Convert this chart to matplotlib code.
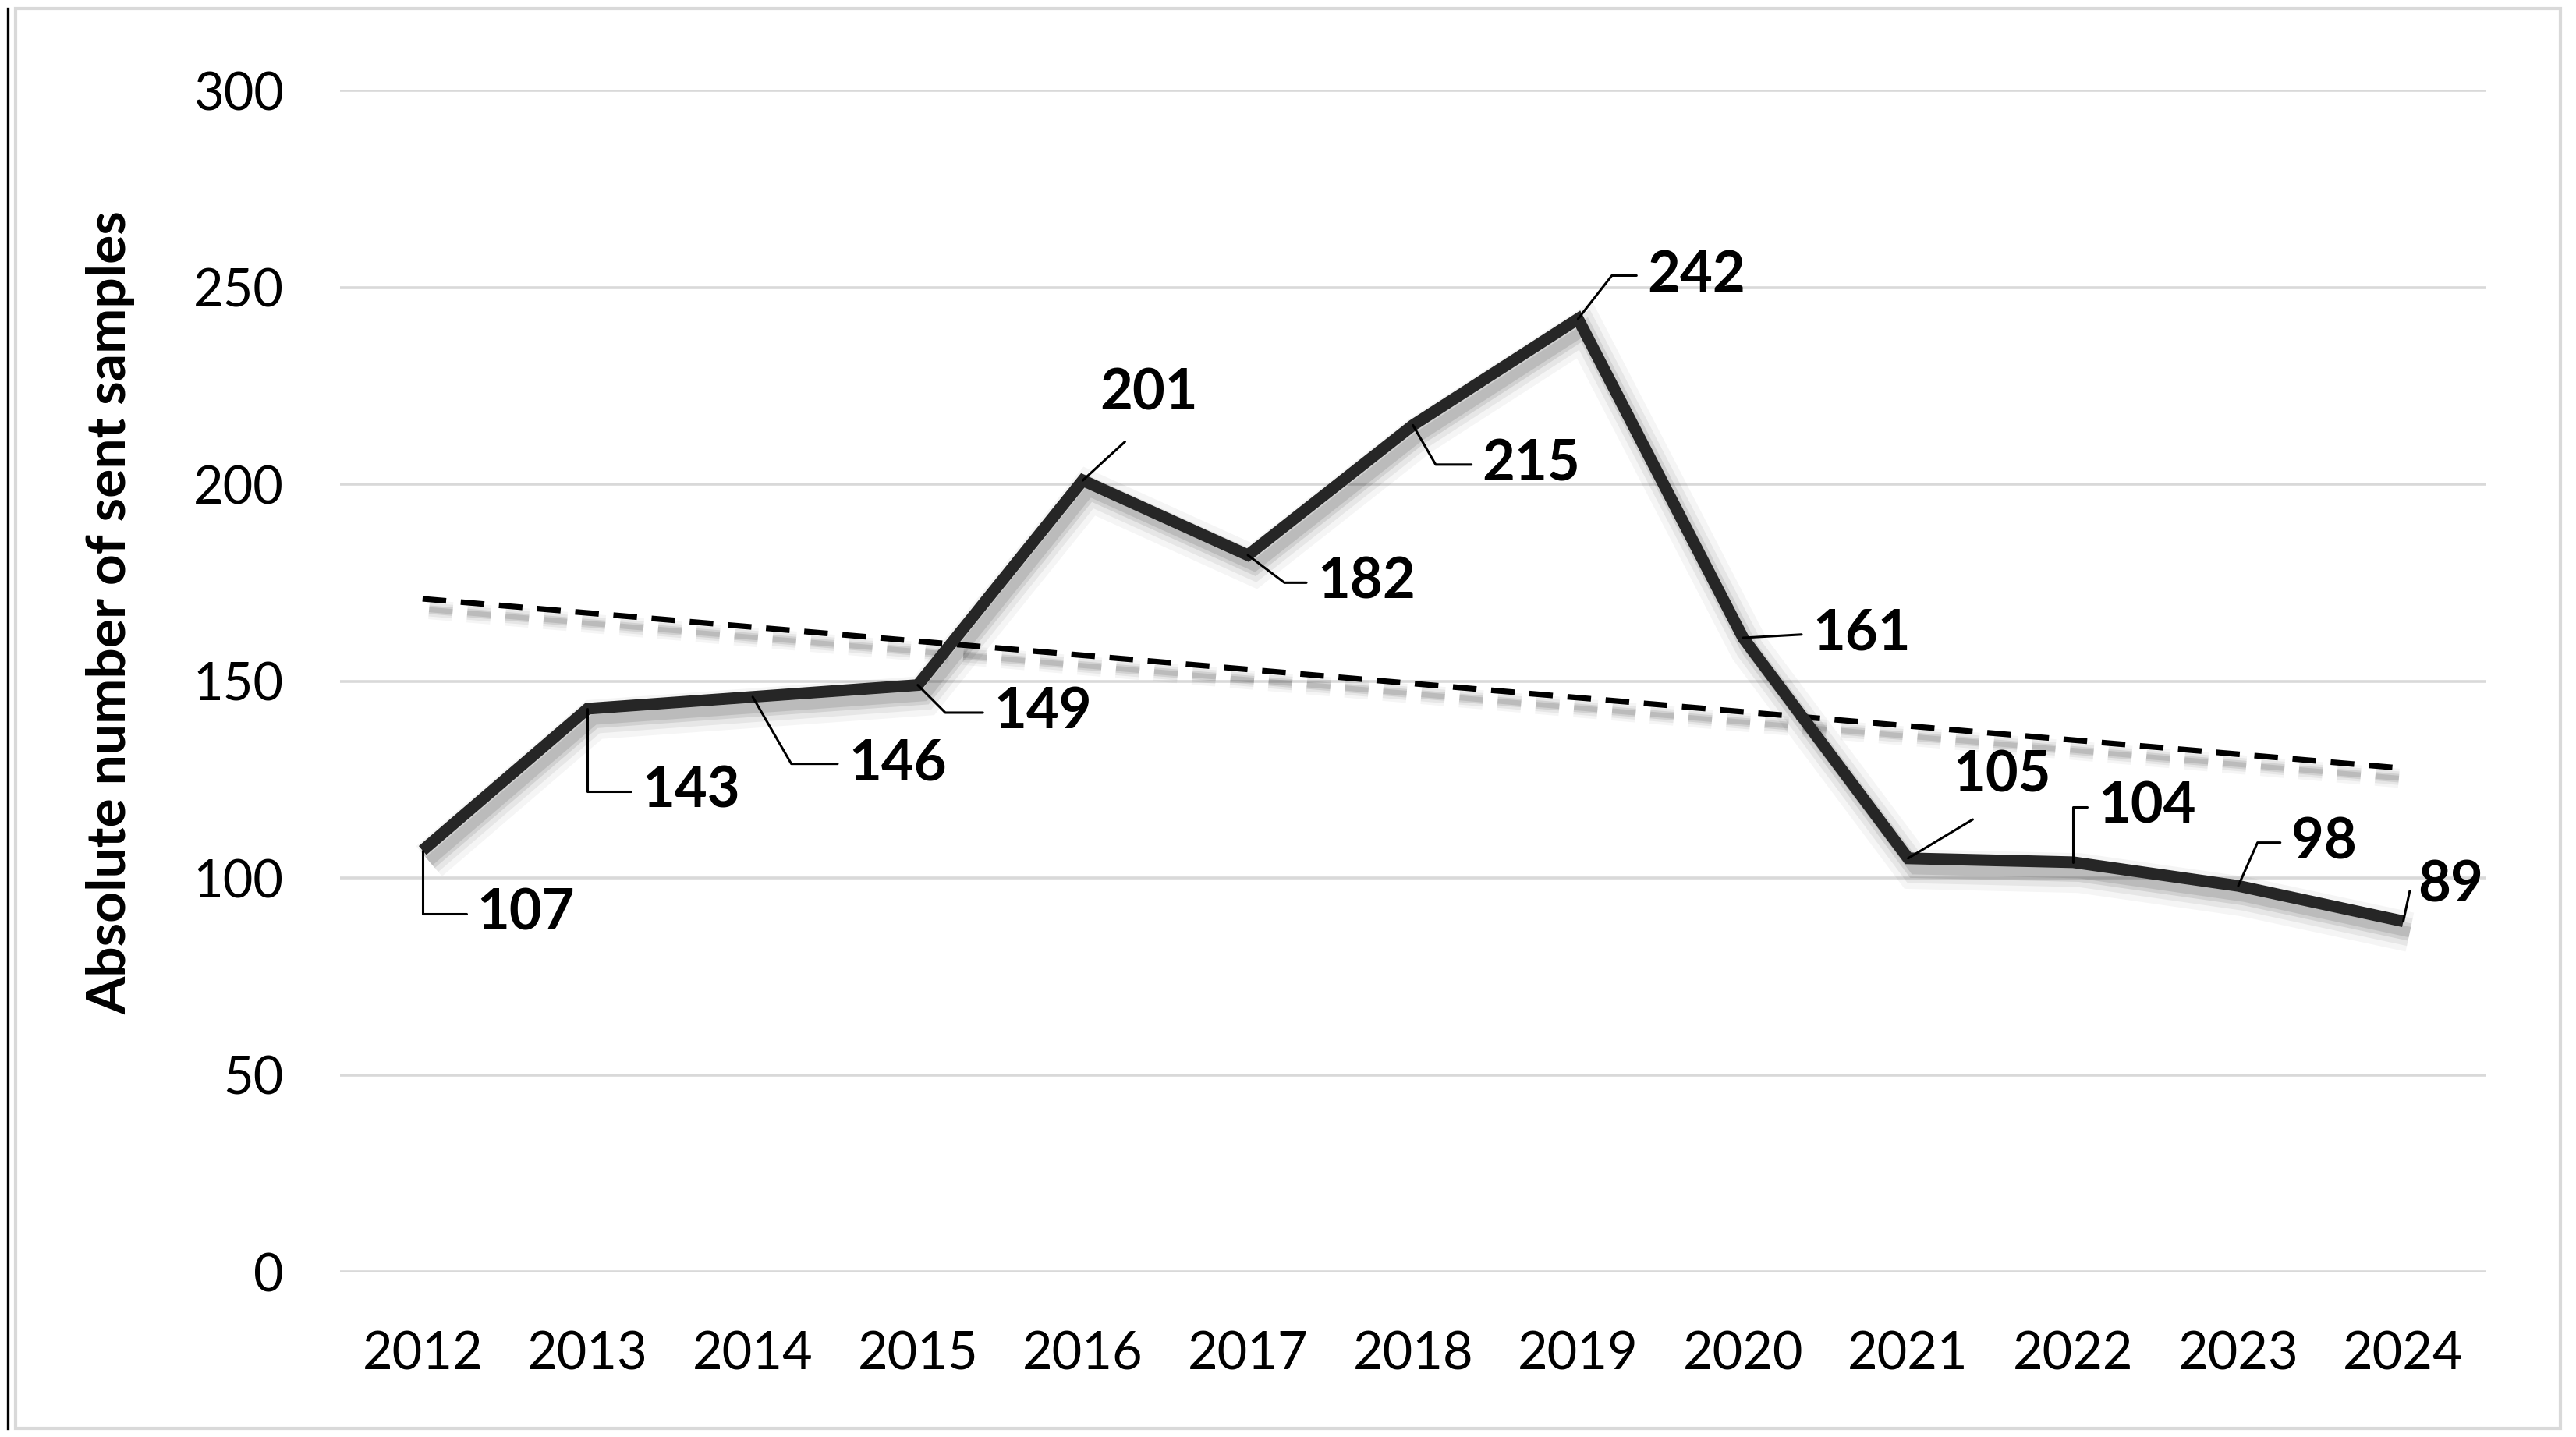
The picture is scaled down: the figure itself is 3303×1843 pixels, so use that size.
import numpy as np
import matplotlib
matplotlib.use("Agg")
import matplotlib.pyplot as plt
import matplotlib.patheffects as pe
from matplotlib.patches import Rectangle

years = ["2012", "2013", "2014", "2015", "2016", "2017", "2018",
         "2019", "2020", "2021", "2022", "2023", "2024"]
samples = [107, 143, 146, 149, 201, 182, 215, 242, 161, 105, 104, 98, 89]
y_ticks = [0, 50, 100, 150, 200, 250, 300]

# label placement: (x offset, y position, style, leader angle at the point)
label_pos = [
    (0.33, 91, "angle", 90),
    (0.33, 122, "angle", 90),
    (0.58, 129, "angle", 120),
    (0.46, 142, "angle", 135),
    (0.40, 223, "straight", None),
    (0.42, 175, "angle", 143),
    (0.42, 205, "angle", 120),
    (0.42, 253, "angle", 52),
    (0.42, 162, "straight_left", None),
    (0.57, 126, "straight", None),
    (0.15, 118, "angle", 90),
    (0.32, 109, "angle", 66),
    (0.09, 98, "angle", 78),
]

plt.rcParams['font.family'] = ['Lato', 'DejaVu Sans']

fig = plt.figure(figsize=(16.515, 9.215), dpi=200)
ax = fig.add_axes([0.132, 0.115, 0.833, 0.822])

x = np.arange(len(years))

# linear trend
coef = np.polyfit(x, samples, 1)
trend = np.polyval(coef, x)

def shadow(lw):
    return [pe.SimpleLineShadow(offset=(3, -5), shadow_color='#000000', alpha=0.04, linewidth=lw * 3.4),
            pe.SimpleLineShadow(offset=(3, -5), shadow_color='#000000', alpha=0.06, linewidth=lw * 2.4),
            pe.SimpleLineShadow(offset=(3, -5), shadow_color='#000000', alpha=0.09, linewidth=lw * 1.5),
            pe.SimpleLineShadow(offset=(3, -5), shadow_color='#000000', alpha=0.10, linewidth=lw * 0.9),
            pe.Normal()]

ax.plot(x, trend, color='black', linewidth=2.6, linestyle=(0, (4.2, 2.6)),
        path_effects=shadow(2.6), zorder=3)
ax.plot(x, samples, color='#262626', linewidth=5.4, solid_joinstyle='miter',
        solid_capstyle='butt', path_effects=shadow(5.4), zorder=4)

for i, v in enumerate(samples):
    dx, ty, style, ang = label_pos[i]
    if style == "angle":
        ax.annotate(str(v), xy=(i, v), xytext=(i + dx, ty), textcoords='data',
                    ha='left', va='center', fontsize=26, fontweight='bold', zorder=6,
                    arrowprops=dict(arrowstyle='-', color='black', lw=1.1, relpos=(0, 0.5),
                                    shrinkA=3, shrinkB=0,
                                    connectionstyle="angle,angleA=0,angleB=%d,rad=0" % ang))
    elif style == "straight_left":
        ax.annotate(str(v), xy=(i, v), xytext=(i + dx, ty), textcoords='data',
                    ha='left', va='center', fontsize=26, fontweight='bold', zorder=6,
                    arrowprops=dict(arrowstyle='-', color='black', lw=1.1, relpos=(0, 0.5),
                                    shrinkA=3, shrinkB=0))
    else:
        ax.annotate(str(v), xy=(i, v), xytext=(i + dx, ty), textcoords='data',
                    ha='center', va='center', fontsize=26, fontweight='bold', zorder=6,
                    arrowprops=dict(arrowstyle='-', color='black', lw=1.1, relpos=(0.5, 0),
                                    shrinkA=12, shrinkB=0))

ax.set_xlim(-0.5, len(years) - 0.5)
ax.set_ylim(0, 300)
ax.set_xticks(x)
ax.set_xticklabels(years)
ax.set_yticks(y_ticks)
ax.tick_params(axis='both', length=0, labelsize=24)
ax.tick_params(axis='x', pad=27)
ax.tick_params(axis='y', pad=26)
ax.grid(axis='y', color='#d9d9d9', linewidth=1.3)
ax.set_axisbelow(True)
for s in ax.spines.values():
    s.set_visible(False)

fig.text(0.043, 0.574, "Absolute number of sent samples", rotation=90,
         ha='center', va='center', fontsize=25, fontweight='bold')

# outer chart frame
fig.patches.append(Rectangle((0.006, 0.006), 0.988, 0.988, transform=fig.transFigure,
                             fill=False, edgecolor='#d9d9d9', linewidth=1.5))
fig.lines.append(plt.Line2D([0.003, 0.003], [0.006, 0.994], transform=fig.transFigure,
                            color='black', linewidth=1.2))

fig.savefig("out.png", dpi=200)
